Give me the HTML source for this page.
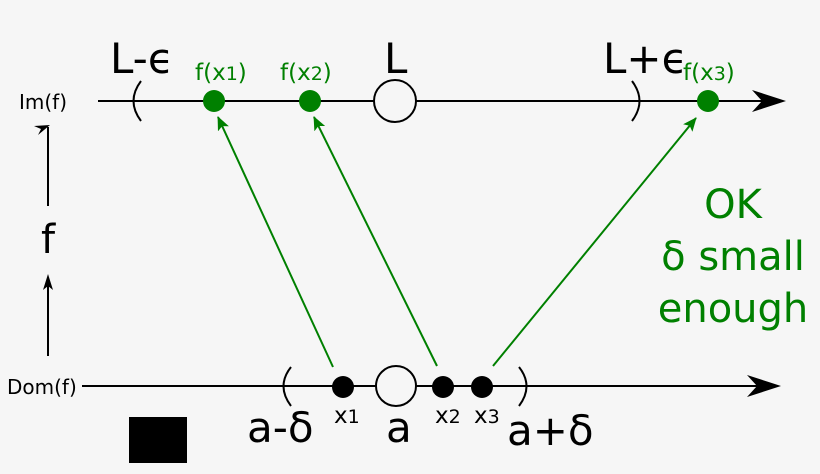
<!DOCTYPE html>
<html><head><meta charset="utf-8"><style>
html,body{margin:0;padding:0;background:#f6f6f6;}
svg{display:block;font-family:"DejaVu Sans","Liberation Sans",sans-serif;}
</style></head><body>
<svg width="820" height="474" viewBox="0 0 820 474" xmlns="http://www.w3.org/2000/svg">
<rect width="820" height="474" fill="#f6f6f6"/>
<defs>
<marker id="g" markerWidth="14" markerHeight="12" refX="13" refY="6" orient="auto" markerUnits="userSpaceOnUse" viewBox="0 0 14 12"><path d="M0,0 L14,6 L0,12 L3,6 z" fill="#008000"/></marker>
</defs>
<line x1="98" y1="101" x2="770" y2="101" stroke="#000" stroke-width="2"/>
<path d="M786,101 L752,90 L762,101 L752,112 z" fill="#000"/>
<line x1="82" y1="386" x2="765" y2="386" stroke="#000" stroke-width="2"/>
<path d="M781,386 L747,375 L757,386 L747,397 z" fill="#000"/>
<path d="M141,81 Q126,101 141,121" fill="none" stroke="#000" stroke-width="2"/>
<path d="M632,81 Q647,101 632,121" fill="none" stroke="#000" stroke-width="2"/>
<path d="M291,367 Q276,386 291,406" fill="none" stroke="#000" stroke-width="2"/>
<path d="M519,367 Q534,386 519,406" fill="none" stroke="#000" stroke-width="2"/>
<circle cx="395" cy="101" r="21" fill="#f6f6f6" stroke="#000" stroke-width="2"/>
<circle cx="396" cy="386" r="20" fill="#f6f6f6" stroke="#000" stroke-width="2"/>
<circle cx="214" cy="101" r="11" fill="#008000"/>
<circle cx="310" cy="101" r="11" fill="#008000"/>
<circle cx="708" cy="101" r="11" fill="#008000"/>
<circle cx="343" cy="387" r="11" fill="#000"/>
<circle cx="443" cy="387" r="11" fill="#000"/>
<circle cx="482" cy="387" r="11" fill="#000"/>
<line x1="333" y1="367" x2="218" y2="117" stroke="#008000" stroke-width="2" marker-end="url(#g)"/>
<line x1="437" y1="366" x2="314" y2="117" stroke="#008000" stroke-width="2" marker-end="url(#g)"/>
<line x1="493" y1="366" x2="696" y2="118" stroke="#008000" stroke-width="2" marker-end="url(#g)"/>
<line x1="48" y1="206" x2="48" y2="127" stroke="#000" stroke-width="2"/>
<path d="M50,125 L34,126 L41,129 L38,135 z" fill="#000"/>
<line x1="48" y1="356" x2="48" y2="280" stroke="#000" stroke-width="2"/>
<path d="M48,274 L43,290 L48,286 L53,290 z" fill="#000"/>
<text x="48" y="253" font-size="40" text-anchor="middle">f</text>
<text x="19" y="109" font-size="20">Im(f)</text>
<text x="7" y="394" font-size="20">Dom(f)</text>
<text x="110" y="73" font-size="42">L-ϵ</text>
<text x="384" y="73" font-size="42">L</text>
<text x="603" y="73" font-size="42">L+ϵ</text>
<text x="195" y="80" font-size="23" fill="#008000">f(x<tspan font-size="19">1</tspan>)</text>
<text x="280" y="80" font-size="23" fill="#008000">f(x<tspan font-size="19">2</tspan>)</text>
<text x="683" y="80" font-size="23" fill="#008000">f(x<tspan font-size="19">3</tspan>)</text>
<text x="247" y="442" font-size="42">a-δ</text>
<text x="386" y="442" font-size="42">a</text>
<text x="507" y="445" font-size="42">a+δ</text>
<text x="334" y="423" font-size="23">x<tspan font-size="19">1</tspan></text>
<text x="435" y="423" font-size="23">x<tspan font-size="19">2</tspan></text>
<text x="474" y="423" font-size="23">x<tspan font-size="19">3</tspan></text>
<rect x="129" y="417" width="58" height="46" fill="#000"/>
<g fill="#008000" font-size="40" text-anchor="middle">
<text x="733" y="218">OK</text>
<text x="733" y="270">δ small</text>
<text x="733" y="322">enough</text>
</g>
</svg>
</body></html>
